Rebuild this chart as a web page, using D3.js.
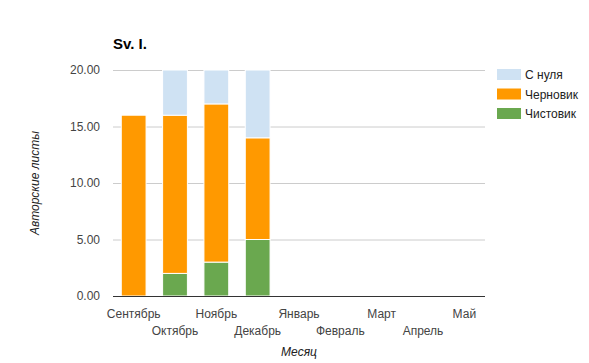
<!DOCTYPE html>
<html><head><meta charset="utf-8">
<script src="https://cdn.jsdelivr.net/npm/d3@7"></script>
<style>body{margin:0;background:#fff}svg{display:block;font-family:Arial,"Liberation Sans",sans-serif}</style>
</head><body><svg id="c" width="589" height="363"></svg>
<script>
const months = ["Сентябрь","Октябрь","Ноябрь","Декабрь","Январь","Февраль","Март","Апрель","Май"];
const chistovik = [0,2,3,5,0,0,0,0,0];
const chernovik = [16,14,14,9,0,0,0,0,0];
const snulya = [0,4,3,6,0,0,0,0,0];
const seriesNames = ["Чистовик","Черновик","С нуля"];
const seriesColors = ["#6aa84f","#ff9900","#cfe2f3"];
const yTicks = [0,5,10,15,20];

const svg = d3.select("#c");
const L=113,R=485,T=70,B=296;
const x = d3.scaleBand().domain(months).range([L,R]).paddingInner(0.4).paddingOuter(0.2);
const y = d3.scaleLinear().domain([0,20]).range([B,T]);

// grid
svg.append("g").selectAll("line").data(yTicks.filter(d=>d>0)).join("line")
  .attr("x1",L).attr("x2",R).attr("y1",d=>y(d)+0.5).attr("y2",d=>y(d)+0.5)
  .attr("stroke","#cccccc");

const rows = months.map((m,i)=>({m, "Чистовик":chistovik[i], "Черновик":chernovik[i], "С нуля":snulya[i]}));
const stacked = d3.stack().keys(seriesNames)(rows);
svg.append("g").selectAll("g").data(stacked).join("g")
  .attr("fill",(d,i)=>seriesColors[i])
  .selectAll("rect").data(d=>d.filter(p=>p[1]-p[0]>0)).join("rect")
  .attr("x",d=>x(d.data.m)).attr("width",x.bandwidth())
  .attr("y",d=>y(Math.min(d[1],20))).attr("height",d=>y(d[0])-y(Math.min(d[1],20)))
  .attr("stroke","#fff").attr("stroke-width",1);

// baseline
svg.append("line").attr("x1",L).attr("x2",R).attr("y1",B+0.5).attr("y2",B+0.5).attr("stroke","#333");

// y tick labels
const ya = d3.axisLeft(y).tickValues(yTicks).tickFormat(d3.format(".2f")).tickSize(0).tickPadding(13);
const gy = svg.append("g").attr("transform",`translate(${L},0)`).call(ya);
gy.select(".domain").remove();
gy.selectAll("text").attr("font-size",12).attr("fill","#444").attr("font-family","Arial, 'Liberation Sans', sans-serif");

// x labels staggered
const xa = d3.axisBottom(x).tickSize(0).tickPadding(0);
const gx = svg.append("g").attr("transform",`translate(0,${B})`).call(xa);
gx.select(".domain").remove();
gx.selectAll("text").attr("font-size",12).attr("fill","#444").attr("font-family","Arial, 'Liberation Sans', sans-serif")
  .attr("dy",null).attr("y",(d,i)=> i%2===0 ? 22 : 39);

// title
svg.append("text").attr("x",113).attr("y",49).attr("font-size",15).attr("font-weight","bold").attr("fill","#000").text("Sv. I.");

// axis titles
svg.append("text").attr("x",(L+R)/2).attr("y",356).attr("text-anchor","middle").attr("font-size",12)
  .attr("font-style","italic").attr("fill","#222").text("Месяц");
svg.append("text").attr("transform",`translate(39,${(T+B)/2}) rotate(-90)`).attr("text-anchor","middle")
  .attr("font-size",12).attr("font-style","italic").attr("fill","#222").text("Авторские листы");

// legend
const legOrder = [2,1,0];
const lg = svg.append("g").selectAll("g").data(legOrder).join("g")
  .attr("transform",(d,i)=>`translate(497,${69+i*19.5})`);
lg.append("rect").attr("width",24).attr("height",11).attr("fill",d=>seriesColors[d]);
lg.append("text").attr("x",28).attr("y",10).attr("font-size",12).attr("fill","#222").text(d=>seriesNames[d]);
</script></body></html>
